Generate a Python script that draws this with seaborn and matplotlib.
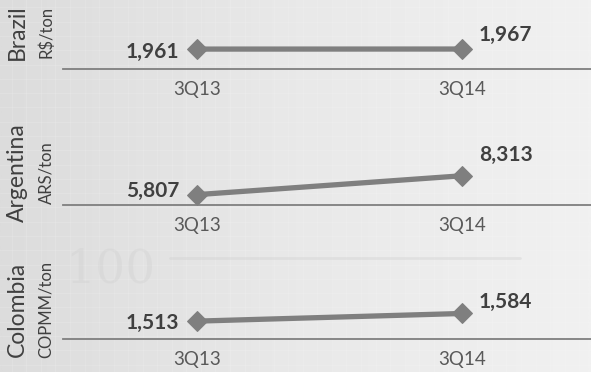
import numpy as np
import pandas as pd
import matplotlib
matplotlib.use("Agg")
import matplotlib.pyplot as plt
import seaborn as sns

# ---- data ----
periods = ["3Q13", "3Q14"]
countries = ["Brazil", "Argentina", "Colombia"]
units = ["R$/ton", "ARS/ton", "COPMM/ton"]
brazil = [1961, 1967]
argentina = [5807, 8313]
colombia = [1513, 1584]
series = [brazil, argentina, colombia]

# ---- style / layout (pixels) ----
W, H = 591, 372
ylims = [(0, 6500), (4430, 13200), (1347, 1960)]
baselines = [69, 205, 339]
panel_h = 66
left_px, right_px = 63, 591
label_offsets = [[(-13, -2), (12, 10)], [(-13, 3), (12, 15)], [(-13, -1), (12, 8)]]
label_ha = ["right", "left"]
country_y = [32, 173, 309]

sns.set_style("white")
plt.rcParams["font.family"] = ["Lato", "DejaVu Sans"]

fig = plt.figure(figsize=(W / 100, H / 100), dpi=100)

# background gradient
bg = fig.add_axes([0, 0, 1, 1], zorder=-10)
grad = np.linspace(0, 1, 300)[None, :]
bg.imshow(grad, aspect="auto", cmap=matplotlib.colors.LinearSegmentedColormap.from_list(
    "g", ["#dcdcdc", "#e9e9e9", "#f1f1f1"]), extent=[0, 1, 0, 1])
for xv in np.linspace(0.02, 0.98, 40):
    bg.axvline(xv, color="white", alpha=0.12, lw=1)
for yv in np.linspace(0.02, 0.98, 26):
    bg.axhline(yv, color="white", alpha=0.12, lw=1)
bg.text(110 / W, 1 - 270 / H, "100", fontsize=34, color="#c8c8c8", alpha=0.25,
        ha="center", va="center", family="DejaVu Serif")
bg.plot([170 / W, 520 / W], [1 - 258 / H, 1 - 258 / H], color="#d0d0d0", lw=2, alpha=0.4)
bg.set_xlim(0, 1)
bg.set_ylim(0, 1)
bg.axis("off")

for i, vals in enumerate(series):
    bottom = 1 - baselines[i] / H
    ax = fig.add_axes([left_px / W, bottom, (right_px - left_px) / W, panel_h / H])
    ax.patch.set_alpha(0)
    df = pd.DataFrame({"x": [0, 1], "v": vals})
    sns.lineplot(data=df, x="x", y="v", ax=ax, color="#7f7f7f", lw=3.8,
                 marker="D", markersize=10, markeredgecolor="#7f7f7f")
    ax.set_xlim(-0.506, 1.487)
    ax.set_ylim(*ylims[i])
    for s in ["top", "right", "left"]:
        ax.spines[s].set_visible(False)
    ax.spines["bottom"].set_color("#7f7f7f")
    ax.spines["bottom"].set_linewidth(1.3)
    ax.set_xticks([0, 1])
    ax.set_xticklabels(periods, fontsize=13.5, color="#595959")
    ax.tick_params(axis="x", length=0, pad=9)
    ax.set_yticks([])
    ax.set_xlabel("")
    ax.set_ylabel("")
    for j, v in enumerate(vals):
        ax.annotate(f"{v:,}", (j, v), xytext=label_offsets[i][j], textcoords="offset points",
                    ha=label_ha[j], va="center", fontsize=15, fontweight="bold",
                    color="#404040")
    fig.text(17 / W, 1 - country_y[i] / H, countries[i], rotation=90, ha="center",
             va="center", fontsize=16.5, color="#404040")
    fig.text(46 / W, 1 - country_y[i] / H, units[i], rotation=90, ha="center",
             va="center", fontsize=12, color="#404040")

fig.savefig("out.png", dpi=100)
